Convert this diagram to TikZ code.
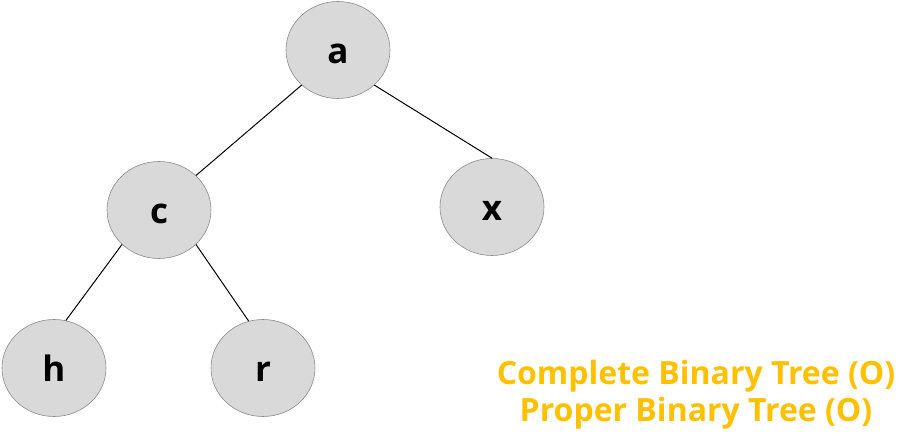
\documentclass[tikz,border=0pt]{standalone}
\usepackage{fontspec}
\setmainfont{Open Sans}
\usetikzlibrary{shapes.geometric}
\definecolor{nodefill}{HTML}{D9D9D9}
\definecolor{nodeline}{HTML}{8C8C8C}
\definecolor{gold}{HTML}{FFC000}
\begin{document}
\begin{tikzpicture}[x=1pt,y=-1pt,
  treenode/.style={ellipse,draw=nodeline,line width=0.6pt,fill=nodefill,minimum width=104pt,minimum height=97pt,inner sep=0pt,text height=28pt,text depth=0pt,font=\fontsize{35}{40}\selectfont\bfseries},
  edge/.style={draw=black,line width=1pt},
  note/.style={text=gold,font=\fontsize{32}{37}\selectfont\bfseries,align=center,inner sep=0pt}]
\useasboundingbox (0,0) rectangle (914,435);
\node[treenode] (a) at (338,50) {a};
\node[treenode] (c) at (159,210) {c};
\node[treenode] (x) at (492,207) {x};
\node[treenode] (h) at (54,368) {h};
\node[treenode] (r) at (263,368) {r};
\draw[edge] (a.224) -- (c.43);
\draw[edge] (a.-44) -- (x.north);
\draw[edge] (c.223) -- (h.76);
\draw[edge] (c.-43) -- (r.107);
\node[note] (t) at (696,395) {Complete Binary Tree (O)\\Proper Binary Tree (O)};
\end{tikzpicture}
\end{document}
